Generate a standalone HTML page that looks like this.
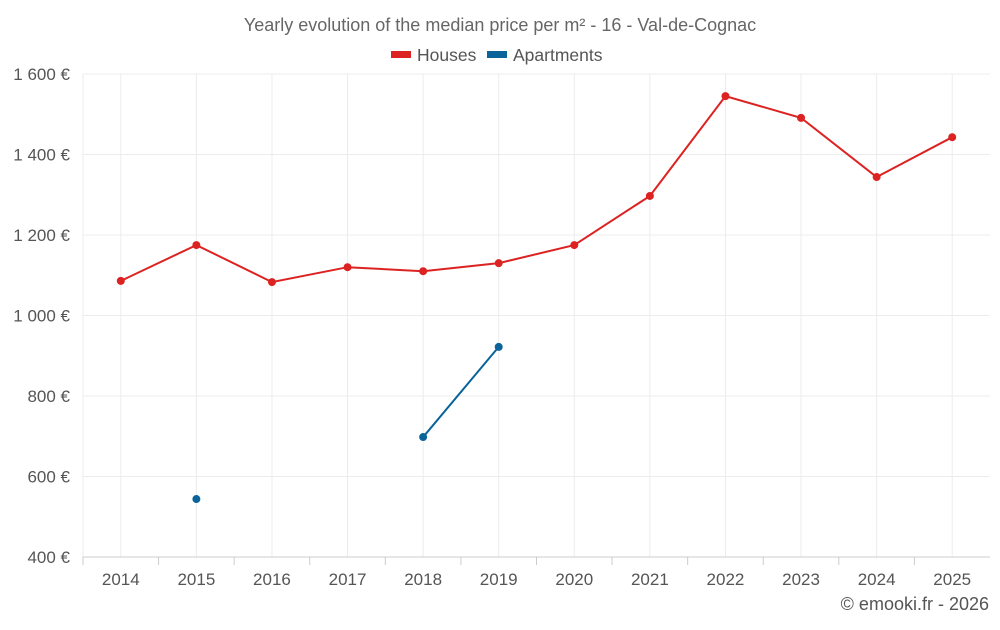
<!DOCTYPE html>
<html><head><meta charset="utf-8"><style>
body{margin:0;background:#fff;font-family:"Liberation Sans",sans-serif;}
svg text{font-family:"Liberation Sans",sans-serif;}
</style></head><body>
<svg id="chart" width="1000" height="625" xmlns="http://www.w3.org/2000/svg">
<text x="500" y="31" text-anchor="middle" font-size="18" fill="#666">Yearly evolution of the median price per m² - 16 - Val-de-Cognac</text>
<g><rect x="391" y="51" width="20" height="7" fill="#dd2222"/><text x="417" y="61" font-size="17.5" fill="#555">Houses</text></g>
<g><rect x="487" y="51" width="20" height="7" fill="#0a6399"/><text x="513" y="61" font-size="17.5" fill="#555">Apartments</text></g>
<g id="grid"></g><g id="axes"></g><g id="series"></g>
<text x="989" y="610" text-anchor="end" font-size="18" fill="#555">© emooki.fr - 2026</text>
</svg>
<script>
const years=["2014","2015","2016","2017","2018","2019","2020","2021","2022","2023","2024","2025"];
const houses=[1086,1175,1083,1120,1110,1130,1175,1297,1545,1491,1344,1443];
const apartments=[null,544,null,null,698,922,null,null,null,null,null,null];
const yTicks=[400,600,800,1000,1200,1400,1600];
const yLabels=["400 €","600 €","800 €","1 000 €","1 200 €","1 400 €","1 600 €"];
const L=83,R=990,T=74,B=557,NS="http://www.w3.org/2000/svg";
const step=(R-L)/years.length;
const x=i=>L+step*(i+0.5);
const y=v=>B-(v-400)/(1600-400)*(B-T);
function mk(p,tag,a){const e=document.createElementNS(NS,tag);for(const k in a)e.setAttribute(k,a[k]);p.appendChild(e);return e;}
const g=document.getElementById('grid'),ax=document.getElementById('axes'),s=document.getElementById('series');
yTicks.forEach((v,i)=>{
 const l=mk(g,'line',{x1:L,x2:R,y1:y(v),y2:y(v),stroke:'#ececec'});
 
 
 const t=mk(ax,'text',{x:70,y:y(v)+6,'text-anchor':'end','font-size':17,fill:'#555'});t.textContent=yLabels[i];
 
 
});
years.forEach((yr,i)=>{
 const l=mk(g,'line',{x1:x(i),x2:x(i),y1:T,y2:B,stroke:'#ececec'});
 
 
 const tk=mk(ax,'line',{x1:L+step*i,x2:L+step*i,y1:B,y2:B+8,stroke:'#ccc'});
 
 
 const t=mk(ax,'text',{x:x(i),y:585,'text-anchor':'middle','font-size':17,fill:'#555'});t.textContent=yr;
 
 
});
mk(g,'line',{x1:L,x2:L,y1:T,y2:B,stroke:'#ececec'});
const xa=mk(ax,'line',{x1:L,x2:R,y1:B,y2:B,stroke:'#ccc'});


function draw(data,color,name){
 let seg=[];const segs=[];
 data.forEach((v,i)=>{if(v==null){if(seg.length)segs.push(seg);seg=[];}else seg.push([x(i),y(v)]);});
 if(seg.length)segs.push(seg);
 segs.forEach(sg=>{if(sg.length>1){const p=mk(s,'polyline',{points:sg.map(q=>q.join(',')).join(' '),fill:'none',stroke:color,'stroke-width':2});
  
  }});
 data.forEach((v,i)=>{if(v==null)return;const c=mk(s,'circle',{cx:x(i),cy:y(v),r:4,fill:color});
  
  });
}
draw(houses,'#dd2222','houses');
draw(apartments,'#0a6399','apartments');
</script>
</body></html>
